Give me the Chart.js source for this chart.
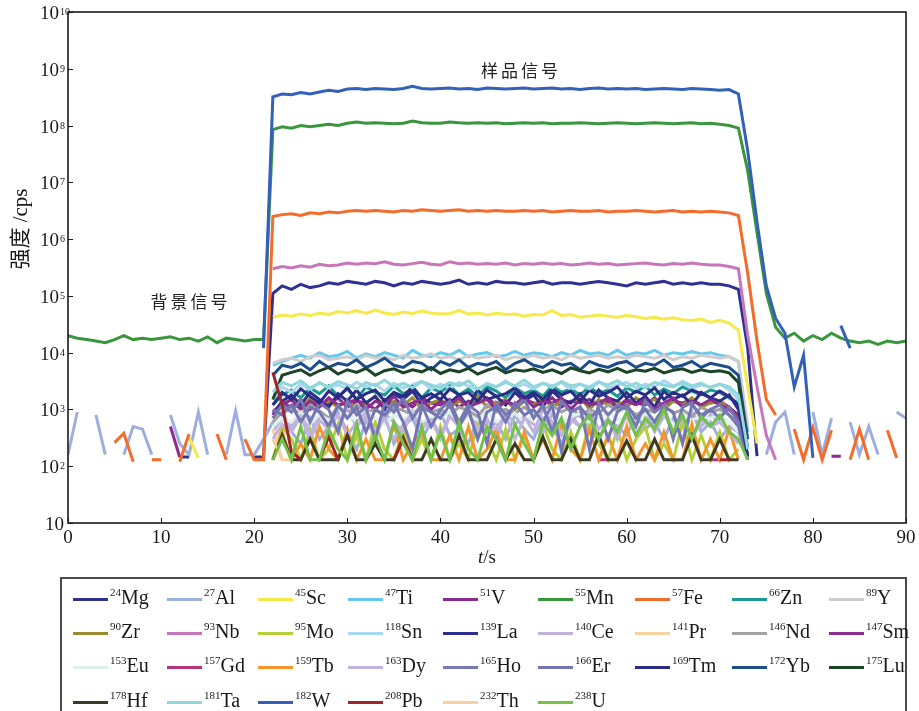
<!DOCTYPE html>
<html>
<head>
<meta charset="utf-8">
<script src="https://cdn.jsdelivr.net/npm/chart.js"></script>
<style>
  body { margin: 0; background: #fff; width: 919px; height: 711px; overflow: hidden; position: relative; }
  #chart { position: absolute; left: 0; top: 0; }
  #legendBox { position: absolute; left: 60px; top: 577px; width: 847px; height: 160px; box-sizing: border-box;
    border: 2px solid #4a4a4a; border-bottom: none; }
  .item { position: absolute; height: 0; }
  .item i { position: absolute; left: 0; top: -1.5px; width: 35px; height: 3.5px; }
  .item span { position: absolute; left: 37px; top: -12px; font: 20px "Liberation Serif", serif; line-height: 20px;
    white-space: nowrap; color: #1a1a1a; }
  .item sup { font-size: 11px; vertical-align: 8px; line-height: 0; }
</style>
</head>
<body>
<canvas id="chart" width="919" height="578"></canvas>
<div id="legendBox"></div>
<script>
// time axis, one reading per second
const times = [];
for (let t = 0; t <= 90; t++) times.push(t);

const _ = null;

const xTicks = [0, 10, 20, 30, 40, 50, 60, 70, 80, 90];
const yExponents = [1, 2, 3, 4, 5, 6, 7, 8, 9, 10];

const masses = [24, 27, 45, 47, 51, 55, 57, 66, 89, 90, 93, 95, 118, 139, 140, 141, 146, 147,
  153, 157, 159, 163, 165, 166, 169, 172, 175, 178, 181, 182, 208, 232, 238];
const elements = ['Mg', 'Al', 'Sc', 'Ti', 'V', 'Mn', 'Fe', 'Zn', 'Y', 'Zr', 'Nb', 'Mo', 'Sn', 'La', 'Ce', 'Pr', 'Nd', 'Sm',
  'Eu', 'Gd', 'Tb', 'Dy', 'Ho', 'Er', 'Tm', 'Yb', 'Lu', 'Hf', 'Ta', 'W', 'Pb', 'Th', 'U'];
const colors = ['#2e3192', '#9eafdf', '#f5ea4a', '#66c8ec', '#8b2b8f', '#3a963c', '#f36c2b', '#1b9a94', '#cdcdcd',
  '#9b8b2d', '#c777b9', '#b5cf3a', '#a9d7f1', '#2c2f8e', '#bfb2dc', '#f9d0a0', '#a2a2a2', '#8f2c90',
  '#ddf0ed', '#b6357a', '#f7952d', '#c0b4dc', '#7679b6', '#7376b4', '#2b2c86', '#1d4e8b', '#1c4427',
  '#3c3a22', '#8fd7d8', '#3361b9', '#a0252b', '#f9d09f', '#73c14b'];

// counts per second, t = 0..90 (null = below detection)
const Mg = [
_,_,_,_,_,_,_,_,_,_,
_,_,145,145,_,_,_,_,_,_,
145,145,1.1e5,1.5e5,1.3e5,1.6e5,1.4e5,1.5e5,1.7e5,1.6e5,
1.8e5,1.7e5,1.6e5,1.8e5,1.7e5,1.5e5,1.7e5,1.6e5,1.8e5,1.7e5,
1.6e5,1.7e5,1.9e5,1.6e5,1.7e5,1.6e5,1.8e5,1.7e5,1.7e5,1.6e5,
1.7e5,1.8e5,1.6e5,1.7e5,1.7e5,1.6e5,1.7e5,1.8e5,1.7e5,1.6e5,
1.5e5,1.7e5,1.6e5,1.7e5,1.8e5,1.6e5,1.7e5,1.6e5,1.7e5,1.6e5,
1.6e5,1.5e5,1.3e5,1.2e4,150,_,_,_,_,_,
_,_,_,_,_,_,_,_,_,_,
_];
const Al = [
160,900,_,800,160,_,160,500,450,160,
_,800,250,160,900,160,_,160,950,160,
160,300,600,900,400,250,700,300,500,900,
400,200,650,350,800,250,500,700,300,600,
900,350,450,250,700,400,600,300,800,450,
300,700,500,250,600,900,400,300,650,500,
350,800,450,600,300,700,500,900,400,600,
300,500,400,160,_,160,600,900,160,_,
900,160,700,_,600,160,500,160,_,900,
700];
const Sc = [
_,_,_,_,_,_,_,_,_,_,
_,_,_,320,140,_,_,_,_,_,
_,_,4.2e4,4.6e4,4.4e4,4.8e4,4.5e4,5e4,4.7e4,5.3e4,
5e4,5.5e4,4.9e4,5.6e4,5e4,4.7e4,5.2e4,4.9e4,5.4e4,5e4,
4.8e4,4.9e4,5.5e4,4.8e4,5e4,4.6e4,5e4,4.7e4,4.8e4,4.4e4,
4.7e4,4.6e4,5.5e4,4.5e4,4.7e4,4.2e4,4.4e4,4.6e4,4.4e4,4.2e4,
4.5e4,4.3e4,4e4,4.2e4,3.9e4,4.1e4,3.8e4,3.7e4,3.9e4,3.4e4,
3.7e4,3.3e4,2.5e4,2.5e3,250,_,_,_,_,_,
_,_,_,_,_,_,_,_,_,_,
_];
const Ti = [
_,_,_,_,_,_,_,_,_,_,
_,_,_,_,_,_,_,_,_,_,
_,_,6e3,7e3,8e3,9e3,8e3,1e4,8.5e3,9e3,
1.05e4,8e3,9.5e3,8.5e3,1e4,9e3,8e3,1.1e4,9e3,8.5e3,
1e4,9e3,1.1e4,8.5e3,9.5e3,1e4,8.5e3,9e3,1.05e4,9e3,
1e4,9.5e3,8.5e3,1e4,9e3,1.1e4,9.5e3,1e4,9e3,1.1e4,
9e3,1e4,9.5e3,1.1e4,9e3,1e4,9.5e3,1.05e4,9.5e3,1e4,
9e3,8.5e3,7e3,400,_,_,_,_,_,_,
_,_,_,_,_,_,_,_,_,_,
_];
const V = [
_,_,_,_,_,_,_,_,_,_,
_,500,145,_,_,_,_,_,_,_,
_,_,900,1.3e3,1.1e3,1.5e3,1e3,1.4e3,1.2e3,1.6e3,
1.1e3,1.4e3,1.3e3,1e3,1.5e3,1.2e3,1.4e3,1.1e3,1.6e3,1.3e3,
1.2e3,1.5e3,1.1e3,1.4e3,1.3e3,1.6e3,1.2e3,1.4e3,1.1e3,1.5e3,
1.3e3,1.2e3,1.6e3,1.1e3,1.4e3,1.3e3,1.5e3,1.2e3,1.4e3,1.1e3,
1.5e3,1.3e3,1.2e3,1.6e3,1.1e3,1.4e3,1.3e3,1.5e3,1.2e3,1.3e3,
1.4e3,1.1e3,800,130,_,_,_,_,_,_,
_,_,150,150,_,_,_,_,_,_,
_];
const Mn = [
2e4,1.8e4,1.7e4,1.6e4,1.5e4,1.7e4,2e4,1.7e4,1.8e4,1.7e4,
1.8e4,1.9e4,1.7e4,1.8e4,1.6e4,1.9e4,1.5e4,1.8e4,1.7e4,1.6e4,
1.7e4,1.7e4,8.5e7,9.5e7,9e7,1e8,9.5e7,1e8,1.05e8,1e8,
1.1e8,1.15e8,1.1e8,1.12e8,1.1e8,1.08e8,1.1e8,1.2e8,1.12e8,1.1e8,
1.1e8,1.15e8,1.12e8,1.1e8,1.12e8,1.1e8,1.12e8,1.08e8,1.1e8,1.12e8,
1.1e8,1.12e8,1.08e8,1.1e8,1.1e8,1.12e8,1.1e8,1.08e8,1.1e8,1.12e8,
1.1e8,1.08e8,1.1e8,1.12e8,1.1e8,1.08e8,1.1e8,1.12e8,1.08e8,1.1e8,
1.05e8,1e8,9e7,1.6e7,1.3e6,1.1e5,2.8e4,1.8e4,2.2e4,1.6e4,
2e4,1.7e4,2.2e4,1.8e4,1.6e4,1.5e4,1.6e4,1.4e4,1.6e4,1.5e4,
1.6e4];
const Fe = [
_,_,_,_,_,260,380,120,_,130,
130,_,120,370,_,_,370,130,_,300,
130,130,2.5e6,2.7e6,2.8e6,2.6e6,2.9e6,2.8e6,3e6,2.9e6,
3.1e6,3.2e6,3.1e6,3.2e6,3.1e6,3e6,3.2e6,3.1e6,3.3e6,3.2e6,
3.1e6,3.2e6,3.3e6,3.1e6,3.2e6,3.1e6,3.2e6,3.1e6,3.1e6,3.2e6,
3.1e6,3.2e6,3e6,3.1e6,3.2e6,3.1e6,3.1e6,3.2e6,3e6,3.1e6,
3.1e6,3.2e6,3.1e6,3e6,3.1e6,3.2e6,3e6,3.1e6,3e6,3.1e6,
3e6,2.9e6,2.6e6,2.5e5,1.6e4,1.5e3,800,_,450,130,
480,130,430,_,130,450,130,_,430,140,
_];
const Zn = [
_,_,_,_,_,_,_,_,_,_,
_,_,_,_,_,_,_,_,_,_,
_,_,1.2e3,1.8e3,2.2e3,1.6e3,2.4e3,1.9e3,2.6e3,1.7e3,
2.3e3,1.5e3,2.5e3,2e3,1.8e3,2.6e3,1.9e3,2.2e3,1.6e3,2.4e3,
2e3,2.7e3,1.8e3,2.3e3,1.7e3,2.5e3,2.1e3,1.6e3,2.4e3,1.9e3,
2.2e3,1.7e3,2.6e3,2e3,2.3e3,1.8e3,2.5e3,1.9e3,2.2e3,1.7e3,
2.4e3,2e3,2.6e3,1.8e3,2.3e3,1.9e3,2.5e3,2.1e3,1.8e3,2.2e3,
2e3,1.6e3,1.3e3,200,_,_,_,_,_,_,
_,_,_,_,_,_,_,_,_,_,
_];
const Y = [
_,_,_,_,_,_,_,_,_,_,
_,_,_,_,_,_,_,_,_,_,
_,_,6.5e3,7.5e3,8e3,7e3,8.5e3,9e3,7.5e3,8e3,
8.5e3,7.5e3,9e3,8e3,8.5e3,7.5e3,9e3,8e3,8.5e3,9.5e3,
8e3,8.5e3,7.5e3,9e3,8e3,8.5e3,9e3,7.5e3,8.5e3,8e3,
9e3,8e3,8.5e3,7.5e3,9e3,8e3,8.5e3,9e3,8e3,8.5e3,
8e3,9e3,8.5e3,8e3,9e3,7.5e3,8.5e3,8e3,9e3,8.5e3,
8e3,8.5e3,7e3,500,_,_,_,_,_,_,
_,_,_,_,_,_,_,_,_,_,
_];
const Zr = [
_,_,_,_,_,_,_,_,_,_,
_,_,_,_,_,_,_,_,_,_,
_,_,700,1.2e3,1.5e3,1e3,1.6e3,1.2e3,1.4e3,1.1e3,
1.5e3,1e3,1.3e3,1.7e3,1.1e3,1.4e3,1.2e3,1.6e3,1e3,1.3e3,
1.5e3,1.1e3,1.4e3,1.2e3,1.7e3,1.1e3,1.3e3,1.5e3,1e3,1.4e3,
1.2e3,1.6e3,1.1e3,1.4e3,1.3e3,1.7e3,1e3,1.5e3,1.2e3,1.4e3,
1.1e3,1.6e3,1.3e3,1.5e3,1e3,1.4e3,1.2e3,1.6e3,1.1e3,1.3e3,
1.4e3,1e3,700,130,_,_,_,_,_,_,
_,_,_,_,_,_,_,_,_,_,
_];
const Nb = [
_,_,_,_,_,_,_,_,_,_,
_,_,_,_,_,_,_,_,_,_,
_,_,3e5,3.3e5,3.1e5,3.4e5,3.2e5,3.6e5,3.4e5,3.5e5,
3.8e5,3.6e5,3.8e5,3.7e5,4e5,3.6e5,3.5e5,3.7e5,3.9e5,3.6e5,
3.5e5,4e5,3.7e5,3.8e5,3.6e5,3.7e5,3.6e5,3.8e5,3.5e5,3.7e5,
3.6e5,3.8e5,3.6e5,3.7e5,3.5e5,3.6e5,3.8e5,3.6e5,3.7e5,3.5e5,
3.6e5,3.7e5,3.8e5,3.6e5,3.5e5,3.7e5,3.6e5,3.8e5,3.6e5,3.5e5,
3.5e5,3.3e5,3e5,2e4,2.5e3,350,130,_,_,_,
_,_,_,_,_,_,_,_,_,_,
_];
const Mo = [
_,_,_,_,_,_,_,_,_,_,
_,_,_,_,_,_,_,_,_,_,
_,_,130,500,300,130,450,130,200,550,
130,350,130,600,200,130,450,130,300,130,
500,130,250,130,600,300,130,450,130,350,
130,550,200,130,400,130,600,250,130,450,
130,300,500,130,250,130,600,130,350,130,
400,130,200,_,_,_,_,_,_,_,
_,_,_,_,_,_,_,_,_,_,
_];
const Sn = [
_,_,_,_,_,_,_,_,_,_,
_,_,_,_,_,_,_,_,_,_,
_,_,1.5e3,2.5e3,2e3,2.8e3,2.2e3,3e3,2.4e3,2.7e3,
2.3e3,3e3,2.5e3,2.8e3,2.1e3,2.9e3,2.4e3,2.7e3,3.1e3,2.3e3,
2.8e3,2.4e3,3e3,2.6e3,2.2e3,2.9e3,2.5e3,3.2e3,2.4e3,2.8e3,
2.3e3,2.9e3,2.6e3,3e3,2.2e3,2.8e3,2.5e3,3.1e3,2.4e3,2.7e3,
3e3,2.4e3,2.8e3,2.5e3,3.2e3,2.6e3,2.9e3,2.3e3,2.7e3,2.5e3,
2.8e3,2.2e3,1.5e3,200,_,_,_,_,_,_,
_,_,_,_,_,_,_,_,_,_,
_];
const La = [
_,_,_,_,_,_,_,_,_,_,
_,_,_,_,_,_,_,_,_,_,
_,_,800,1.4e3,1.8e3,1.2e3,2e3,1.5e3,1.1e3,1.9e3,
1.4e3,2.2e3,1.3e3,1.7e3,1e3,1.9e3,1.5e3,2.1e3,1.2e3,1.6e3,
2e3,1.3e3,1.8e3,1.1e3,2.2e3,1.5e3,1.7e3,1.2e3,2e3,1.4e3,
1.8e3,1.1e3,2.1e3,1.5e3,1.3e3,1.9e3,1.2e3,2.2e3,1.6e3,1.4e3,
2e3,1.3e3,1.7e3,1.1e3,2.1e3,1.5e3,1.8e3,1.2e3,2e3,1.6e3,
1.4e3,1.8e3,1e3,150,_,_,_,_,_,_,
_,_,_,_,_,_,_,_,_,_,
_];
const Ce = [
_,_,_,_,_,_,_,_,_,_,
_,_,_,_,_,_,_,_,_,_,
_,_,400,700,500,900,350,800,600,450,
1e3,500,750,300,850,600,400,950,550,700,
350,800,600,1.1e3,450,700,300,900,550,750,
400,1e3,600,350,800,500,950,450,700,300,
850,550,1e3,400,750,600,300,900,500,800,
600,400,300,_,_,_,_,_,_,_,
_,_,_,_,_,_,_,_,_,_,
_];
const Pr = [
_,_,_,_,_,_,_,_,_,_,
_,_,_,_,_,_,_,_,_,_,
_,_,450,130,_,_,_,_,_,_,
_,_,_,_,_,_,_,_,_,_,
_,_,_,_,_,_,_,_,_,_,
_,_,_,_,_,_,_,_,_,_,
_,_,_,_,_,_,_,_,_,_,
_,_,_,_,_,_,_,_,_,_,
_,_,_,_,_,_,_,_,_,_,
_];
const Nd = [
_,_,_,_,_,_,_,_,_,_,
_,_,_,_,_,_,_,_,_,_,
_,_,600,900,1.1e3,800,1.2e3,950,700,1.1e3,
850,1.2e3,900,1e3,750,1.1e3,950,800,1.2e3,900,
1e3,800,1.1e3,950,750,1.2e3,900,1e3,850,1.1e3,
800,1e3,1.2e3,900,1.1e3,750,1e3,850,1.2e3,950,
1.1e3,800,1e3,900,1.2e3,850,1e3,750,1.1e3,900,
1e3,800,600,_,_,_,_,_,_,_,
_,_,_,_,_,_,_,_,_,_,
_];
const Sm = [
_,_,_,_,_,_,_,_,_,_,
_,_,_,_,_,_,_,_,_,_,
_,_,800,1.2e3,1.5e3,1e3,1.4e3,1.1e3,1.6e3,1.2e3,
1.3e3,1.5e3,1e3,1.4e3,1.2e3,1.7e3,1.1e3,1.3e3,1.5e3,1e3,
1.4e3,1.2e3,1.6e3,1.1e3,1.3e3,1.5e3,1e3,1.4e3,1.2e3,1.7e3,
1.1e3,1.4e3,1.3e3,1.6e3,1e3,1.5e3,1.2e3,1.3e3,1.6e3,1.1e3,
1.4e3,1.2e3,1.5e3,1e3,1.3e3,1.6e3,1.1e3,1.4e3,1.2e3,1.5e3,
1.2e3,1e3,700,130,_,_,_,_,_,_,
_,_,_,_,_,_,_,_,_,_,
_];
const Eu = [
_,_,_,_,_,_,_,_,_,_,
_,_,_,_,_,_,_,_,_,_,
_,_,500,700,600,900,550,800,650,750,
850,600,950,700,550,800,650,900,600,750,
700,900,550,800,650,950,600,750,850,600,
800,650,900,550,750,850,600,700,900,650,
750,600,850,700,900,550,800,650,750,700,
800,600,400,_,_,_,_,_,_,_,
_,_,_,_,_,_,_,_,_,_,
_];
const Gd = [
_,_,_,_,_,_,_,_,_,_,
_,_,_,_,_,_,_,_,_,_,
_,_,_,_,_,_,_,_,_,_,
_,_,_,_,_,_,_,_,_,_,
_,_,_,_,_,_,_,_,_,_,
_,_,_,_,_,_,_,130,130,_,
_,_,_,_,_,_,_,_,_,130,
130,_,_,_,_,_,_,_,_,_,
_,_,_,_,_,_,_,_,_,_,
_];
const Tb = [
_,_,_,_,_,_,_,_,_,_,
_,_,_,_,_,_,_,_,_,_,
_,_,130,400,130,250,130,500,200,130,
450,130,300,130,130,550,130,250,400,130,
130,350,130,500,130,200,450,130,130,400,
130,300,130,550,200,130,450,130,350,130,
500,130,250,130,400,130,130,550,130,300,
130,450,130,_,_,_,_,_,_,_,
_,_,_,_,_,_,_,_,_,_,
_];
const Dy = [
_,_,_,_,_,_,_,_,_,_,
_,_,_,_,_,_,_,_,_,_,
_,_,300,550,400,750,300,650,450,800,
350,600,900,400,700,300,550,850,450,650,
300,750,500,900,350,600,450,800,300,700,
550,400,850,350,650,500,900,300,600,450,
750,350,600,500,850,400,700,300,650,500,
600,400,250,_,_,_,_,_,_,_,
_,_,_,_,_,_,_,_,_,_,
_];
const Ho = [
_,_,_,_,_,_,_,_,_,_,
_,_,_,_,_,_,_,_,_,_,
_,_,700,1.2e3,900,1.5e3,600,1.3e3,1e3,400,
1.4e3,800,1.1e3,300,1.3e3,900,1.6e3,700,1.2e3,500,
1e3,1.4e3,600,1.2e3,900,250,1.3e3,800,1.1e3,1.5e3,
700,1.2e3,400,1.4e3,900,1.1e3,200,1.3e3,800,1.2e3,
1e3,500,1.4e3,900,1.2e3,300,1.1e3,1.3e3,700,1e3,
1.2e3,800,500,130,_,_,_,_,_,_,
_,_,_,_,_,_,_,_,_,_,
_];
const Er = [
_,_,_,_,_,_,_,_,_,_,
_,_,_,_,_,_,_,_,_,_,
_,_,1e3,800,1.2e3,600,1.1e3,900,500,1.2e3,
700,1.1e3,400,1e3,800,1.3e3,600,200,1.1e3,900,
700,1.2e3,500,1e3,300,900,1.1e3,600,1.3e3,800,
1e3,600,1.2e3,180,900,1.1e3,700,1e3,300,900,
1.2e3,700,1e3,600,1.1e3,900,250,1.2e3,800,1e3,
700,1.1e3,600,150,_,_,_,_,_,_,
_,_,_,_,_,_,_,_,_,_,
_];
const Tm = [
_,_,_,_,_,_,_,_,_,_,
_,_,_,_,_,_,_,_,_,_,
_,_,1.2e3,2e3,1.5e3,2.3e3,1.7e3,1.3e3,2.1e3,1.6e3,
2.4e3,1.5e3,1.9e3,2.2e3,1.4e3,2e3,1.7e3,2.5e3,1.6e3,1.9e3,
1.5e3,2.3e3,1.8e3,2e3,1.4e3,2.2e3,1.7e3,1.9e3,2.4e3,1.6e3,
2e3,1.5e3,2.3e3,1.8e3,2.1e3,1.4e3,2.2e3,1.7e3,2e3,2.5e3,
1.6e3,2.1e3,1.8e3,2.4e3,1.5e3,2e3,1.7e3,2.2e3,1.9e3,1.6e3,
2.1e3,1.7e3,1.2e3,150,_,_,_,_,_,_,
_,_,_,_,_,_,_,_,_,_,
_];
const Yb = [
_,_,_,_,_,_,_,_,_,_,
_,_,_,_,_,_,_,_,_,_,
_,_,4e3,6e3,5.5e3,6.5e3,5e3,7e3,5.5e3,6.5e3,
6e3,7.5e3,5.5e3,6.5e3,8e3,6e3,5.5e3,7e3,6.5e3,5e3,
7e3,6e3,7.5e3,5.5e3,6.5e3,6e3,7e3,5e3,6.5e3,7.5e3,
6e3,5.5e3,7e3,6e3,6.5e3,5e3,7e3,6e3,5.5e3,6.5e3,
7e3,5.5e3,6.5e3,6e3,7.5e3,5.5e3,6e3,7e3,5.5e3,6.5e3,
6e3,5.5e3,4e3,300,_,_,_,_,_,_,
_,_,_,_,_,_,_,_,_,_,
_];
const Lu = [
_,_,_,_,_,_,_,_,_,_,
_,_,_,_,_,_,_,_,_,_,
_,_,1.5e3,4e3,4.5e3,5e3,4e3,4.8e3,5.5e3,4.2e3,
5e3,4.5e3,5.3e3,4e3,4.8e3,5.2e3,4.4e3,5e3,4.6e3,5.5e3,
4.3e3,5e3,4.6e3,5.3e3,4.2e3,4.9e3,5.5e3,4.4e3,5e3,4.7e3,
5.2e3,4.5e3,5e3,4.3e3,5.4e3,4.8e3,4.4e3,5.1e3,4.6e3,5.3e3,
4.5e3,5e3,4.7e3,5.3e3,4.4e3,4.9e3,5.2e3,4.5e3,5e3,4.6e3,
4.8e3,4.4e3,3e3,200,_,_,_,_,_,_,
_,_,_,_,_,_,_,_,_,_,
_];
const Hf = [
_,_,_,_,_,_,_,_,_,_,
_,_,_,_,_,_,_,_,_,_,
_,_,130,350,130,130,300,130,130,130,
350,130,130,250,130,130,320,130,130,300,
130,130,350,130,130,130,300,130,250,130,
130,330,130,130,300,130,130,350,130,130,
280,130,130,300,130,130,130,350,130,130,
300,130,130,_,_,_,_,_,_,_,
_,_,_,_,_,_,_,_,_,_,
_];
const Ta = [
_,_,_,_,_,_,_,_,_,_,
_,_,_,_,_,_,_,_,_,_,
_,_,2e3,3e3,2.6e3,3.2e3,2.4e3,2.9e3,2.5e3,3.1e3,
2.7e3,2.3e3,3e3,2.6e3,3.3e3,2.5e3,2.9e3,2.4e3,3.1e3,2.7e3,
2.4e3,3e3,2.6e3,3.2e3,2.3e3,2.8e3,2.5e3,3e3,2.6e3,3.3e3,
2.5e3,2.9e3,2.4e3,3.1e3,2.6e3,2.8e3,2.3e3,3e3,2.7e3,3.2e3,
2.5e3,2.9e3,2.4e3,3e3,2.7e3,2.5e3,3.1e3,2.6e3,2.9e3,2.4e3,
2.8e3,2.5e3,1.8e3,200,_,_,_,_,_,_,
_,_,_,_,_,_,_,_,_,_,
_];
const W = [
_,_,_,_,_,_,_,_,_,_,
_,_,_,_,_,_,_,_,_,_,
_,1.2e4,3.2e8,3.6e8,3.5e8,3.8e8,3.6e8,3.9e8,4.2e8,4e8,
4.4e8,4.5e8,4.3e8,4.5e8,4.4e8,4.3e8,4.5e8,4.9e8,4.5e8,4.4e8,
4.5e8,4.6e8,4.4e8,4.5e8,4.3e8,4.6e8,4.5e8,4.4e8,4.5e8,4.6e8,
4.4e8,4.5e8,4.6e8,4.4e8,4.5e8,4.3e8,4.5e8,4.6e8,4.4e8,4.5e8,
4.4e8,4.5e8,4.3e8,4.4e8,4.5e8,4.4e8,4.3e8,4.5e8,4.4e8,4.3e8,
4.2e8,4.3e8,3.6e8,3.6e7,2e6,1.5e5,4e4,2.2e4,2.5e3,9e3,
140,_,_,3e4,1.2e4,_,_,_,_,_,
_];
const Pb = [
_,_,_,_,_,_,_,_,_,_,
_,_,_,_,_,_,_,_,_,_,
_,_,4.5e3,1.2e3,180,130,_,130,330,130,
_,_,_,_,_,130,300,130,_,_,
_,_,_,_,_,_,_,_,_,_,
_,_,_,_,_,_,_,_,_,_,
_,_,_,_,_,_,_,_,_,_,
130,130,_,_,_,_,_,_,_,_,
_,_,_,_,_,_,_,_,_,_,
_];
const Th = [
_,_,_,_,_,_,_,_,_,_,
_,_,_,_,_,_,_,_,_,_,
_,_,300,130,130,_,_,_,_,_,
_,_,_,_,_,_,_,_,_,_,
_,_,_,_,_,_,_,_,_,_,
_,_,_,_,_,_,_,_,_,_,
_,_,_,_,_,_,_,_,_,_,
_,_,_,_,_,_,_,_,_,_,
_,_,_,_,_,_,_,_,_,_,
_];
const U = [
_,_,_,_,_,_,_,_,_,_,
_,_,_,_,_,_,_,_,_,_,
_,_,130,300,130,500,130,130,450,200,
130,550,130,350,130,600,250,130,500,130,
400,130,600,200,130,500,300,130,550,250,
130,600,350,700,200,500,800,300,650,400,
900,350,700,450,1e3,400,800,300,750,500,
800,400,300,130,_,_,_,_,_,_,
_,_,_,_,_,_,_,_,_,_,
_];

const series = [Mg, Al, Sc, Ti, V, Mn, Fe, Zn, Y, Zr, Nb, Mo, Sn, La, Ce, Pr, Nd, Sm,
  Eu, Gd, Tb, Dy, Ho, Er, Tm, Yb, Lu, Hf, Ta, W, Pb, Th, U];

const sampleLabel = { text: '样品信号', t: 48.5, v: 9.4e8 };
const backgroundLabel = { text: '背景信号', t: 13, v: 7.8e4 };

const datasets = series.map((data, i) => ({
  label: masses[i] + elements[i],
  data: data,
  borderColor: colors[i],
  backgroundColor: colors[i],
  borderWidth: 3,
  pointRadius: 0,
  tension: 0,
  spanGaps: false,
  order: series.length - i
}));

function spacedText(ctx, text, cx, cy, step) {
  const chars = Array.from(text);
  const start = cx - step * (chars.length - 1) / 2;
  chars.forEach((c, i) => ctx.fillText(c, start + i * step, cy));
}

const framePlugin = {
  id: 'frame',
  afterDraw(chart) {
    const { ctx, chartArea: a } = chart;
    const xs = chart.scales.x, ys = chart.scales.y;
    ctx.save();
    ctx.strokeStyle = '#1a1a1a';
    ctx.fillStyle = '#1a1a1a';
    ctx.lineWidth = 1.6;
    ctx.strokeRect(a.left, a.top, a.right - a.left, a.bottom - a.top);

    ctx.lineWidth = 1;
    ctx.beginPath();
    yExponents.forEach(e => {
      const py = Math.round(ys.getPixelForValue(Math.pow(10, e))) + 0.5;
      ctx.moveTo(a.left, py); ctx.lineTo(a.left + 5, py);
    });
    xTicks.forEach(v => {
      const px = Math.round(xs.getPixelForValue(v)) + 0.5;
      ctx.moveTo(px, a.bottom); ctx.lineTo(px, a.bottom - 5);
    });
    ctx.stroke();

    ctx.textBaseline = 'alphabetic';
    yExponents.forEach(e => {
      const py = ys.getPixelForValue(Math.pow(10, e));
      ctx.font = '19px "Liberation Serif"';
      ctx.textAlign = 'right';
      if (e === 1) { ctx.fillText('10', a.left - 4, py + 7); return; }
      ctx.fillText('10', a.left - 9, py + 7);
      ctx.font = '10px "Liberation Serif"';
      ctx.textAlign = 'left';
      ctx.fillText(String(e), a.left - 8, py + 3);
    });

    ctx.font = '19px "Liberation Serif"';
    ctx.textAlign = 'center';
    xTicks.forEach(v => ctx.fillText(String(v), xs.getPixelForValue(v), a.bottom + 20));

    // x title: t/s
    const cx = (a.left + a.right) / 2;
    ctx.font = 'italic 19px "Liberation Serif"';
    const wt = ctx.measureText('t').width;
    ctx.font = '19px "Liberation Serif"';
    const ws = ctx.measureText('/s').width;
    const x0 = cx - (wt + ws) / 2;
    ctx.textAlign = 'left';
    ctx.font = 'italic 19px "Liberation Serif"';
    ctx.fillText('t', x0, a.bottom + 40);
    ctx.font = '19px "Liberation Serif"';
    ctx.fillText('/s', x0 + wt, a.bottom + 40);

    // y title
    ctx.save();
    ctx.translate(21, 229);
    ctx.rotate(-Math.PI / 2);
    ctx.textAlign = 'center';
    ctx.textBaseline = 'middle';
    ctx.font = '21px "Liberation Serif", "Noto Sans CJK SC"';
    ctx.fillText('强度 /cps', 0, 0);
    ctx.restore();

    // annotations
    ctx.font = '17px "Noto Sans CJK SC"';
    ctx.textAlign = 'center';
    ctx.textBaseline = 'middle';
    ctx.fillStyle = '#222';
    [sampleLabel, backgroundLabel].forEach(l =>
      spacedText(ctx, l.text, xs.getPixelForValue(l.t), ys.getPixelForValue(l.v), 20));
    ctx.restore();
  }
};

new Chart(document.getElementById('chart'), {
  type: 'line',
  data: { labels: times, datasets: datasets },
  options: {
    responsive: false,
    animation: false,
    devicePixelRatio: 1,
    layout: { padding: { left: 68, top: 12, right: 13, bottom: 55 } },
    plugins: { legend: { display: false }, tooltip: { enabled: false } },
    scales: {
      x: { type: 'linear', min: 0, max: 90, display: false },
      y: { type: 'logarithmic', min: 10, max: 1e10, display: false }
    }
  },
  plugins: [framePlugin]
});

// legend below the plot, in the same order as the series
const colX = [73, 167, 258, 348, 443, 538, 635, 732, 829];
const rowY = [599, 633, 667, 702];
elements.forEach((el, i) => {
  const item = document.createElement('div');
  item.className = 'item';
  item.style.left = colX[i % 9] + 'px';
  item.style.top = rowY[Math.floor(i / 9)] + 'px';
  const sw = document.createElement('i');
  sw.style.background = colors[i];
  const lab = document.createElement('span');
  lab.innerHTML = '<sup>' + masses[i] + '</sup>' + el;
  item.appendChild(sw);
  item.appendChild(lab);
  document.body.appendChild(item);
});
</script>
</body>
</html>
